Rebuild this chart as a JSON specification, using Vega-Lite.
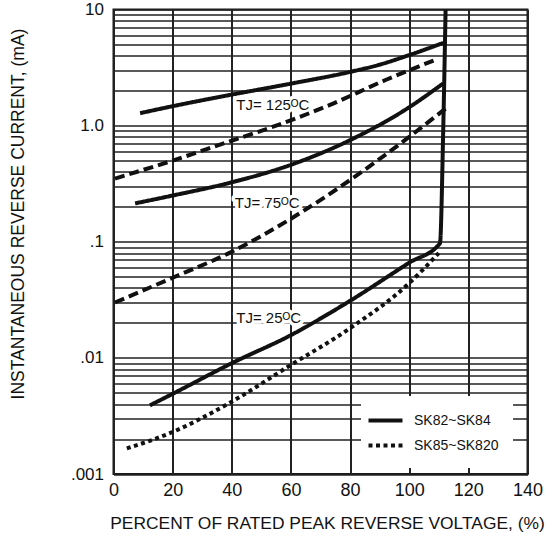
{
  "$schema": "https://vega.github.io/schema/vega-lite/v6.json",
  "autosize": {"type": "none"},
  "padding": {"left": 113.5, "top": 9.5, "right": 32.5, "bottom": 64},
  "width": 414,
  "height": 464.5,
  "background": "white",
  "config": {
    "font": "Liberation Sans",
    "view": {"stroke": "#1a1a1a", "strokeWidth": 2},
    "axis": {"gridOpacity": 1, "ticks": false, "domain": false, "labelColor": "#111", "titleColor": "#111", "titleFontWeight": "normal", "labelFont": "Liberation Sans", "titleFont": "Liberation Sans"}
  },
  "datasets": {
    "curves": [
      {"series": "SK82~SK84", "tj": "125", "pct": 9, "ma": 1.28},
      {"series": "SK82~SK84", "tj": "125", "pct": 20, "ma": 1.47},
      {"series": "SK82~SK84", "tj": "125", "pct": 40, "ma": 1.85},
      {"series": "SK82~SK84", "tj": "125", "pct": 60, "ma": 2.3},
      {"series": "SK82~SK84", "tj": "125", "pct": 80, "ma": 2.9},
      {"series": "SK82~SK84", "tj": "125", "pct": 90, "ma": 3.35},
      {"series": "SK82~SK84", "tj": "125", "pct": 100, "ma": 4.05},
      {"series": "SK82~SK84", "tj": "125", "pct": 111.5, "ma": 5.15},
      {"series": "SK82~SK84", "tj": "75", "pct": 7.3, "ma": 0.214},
      {"series": "SK82~SK84", "tj": "75", "pct": 20, "ma": 0.25},
      {"series": "SK82~SK84", "tj": "75", "pct": 40, "ma": 0.325},
      {"series": "SK82~SK84", "tj": "75", "pct": 60, "ma": 0.46},
      {"series": "SK82~SK84", "tj": "75", "pct": 80, "ma": 0.75},
      {"series": "SK82~SK84", "tj": "75", "pct": 100, "ma": 1.44},
      {"series": "SK82~SK84", "tj": "75", "pct": 111.5, "ma": 2.31},
      {"series": "SK82~SK84", "tj": "25", "pct": 12.3, "ma": 0.0039},
      {"series": "SK82~SK84", "tj": "25", "pct": 20, "ma": 0.0049},
      {"series": "SK82~SK84", "tj": "25", "pct": 40, "ma": 0.009},
      {"series": "SK82~SK84", "tj": "25", "pct": 60, "ma": 0.0157},
      {"series": "SK82~SK84", "tj": "25", "pct": 80, "ma": 0.031},
      {"series": "SK82~SK84", "tj": "25", "pct": 100, "ma": 0.066},
      {"series": "SK82~SK84", "tj": "25", "pct": 110.4, "ma": 0.097},
      {"series": "SK82~SK84", "tj": "25", "pct": 111.5, "ma": 0.92},
      {"series": "SK82~SK84", "tj": "25", "pct": 112.3, "ma": 10},
      {"series": "SK85~SK820", "tj": "125", "pct": 0.5, "ma": 0.35},
      {"series": "SK85~SK820", "tj": "125", "pct": 20, "ma": 0.5},
      {"series": "SK85~SK820", "tj": "125", "pct": 37, "ma": 0.7},
      {"series": "SK85~SK820", "tj": "125", "pct": 54, "ma": 0.98},
      {"series": "SK85~SK820", "tj": "125", "pct": 73, "ma": 1.5},
      {"series": "SK85~SK820", "tj": "125", "pct": 92, "ma": 2.47},
      {"series": "SK85~SK820", "tj": "125", "pct": 109, "ma": 3.7},
      {"series": "SK85~SK820", "tj": "75", "pct": 0.5, "ma": 0.03},
      {"series": "SK85~SK820", "tj": "75", "pct": 20, "ma": 0.049},
      {"series": "SK85~SK820", "tj": "75", "pct": 40, "ma": 0.082},
      {"series": "SK85~SK820", "tj": "75", "pct": 60, "ma": 0.158},
      {"series": "SK85~SK820", "tj": "75", "pct": 80, "ma": 0.34},
      {"series": "SK85~SK820", "tj": "75", "pct": 100, "ma": 0.8},
      {"series": "SK85~SK820", "tj": "75", "pct": 112.7, "ma": 1.43},
      {"series": "SK85~SK820", "tj": "25", "pct": 4.5, "ma": 0.00166},
      {"series": "SK85~SK820", "tj": "25", "pct": 20, "ma": 0.0023},
      {"series": "SK85~SK820", "tj": "25", "pct": 40, "ma": 0.0042},
      {"series": "SK85~SK820", "tj": "25", "pct": 60, "ma": 0.0087},
      {"series": "SK85~SK820", "tj": "25", "pct": 80, "ma": 0.018},
      {"series": "SK85~SK820", "tj": "25", "pct": 100, "ma": 0.044},
      {"series": "SK85~SK820", "tj": "25", "pct": 110, "ma": 0.08}
    ],
    "labels": [
      {"pct": 41.5, "ma": 1.5, "text": "TJ= 125ᴼC"},
      {"pct": 41.0, "ma": 0.214, "text": "TJ= 75ᴼC"},
      {"pct": 41.5, "ma": 0.0219, "text": "TJ= 25ᴼC"}
    ]
  },
  "encoding": {
    "x": {
      "field": "pct", "type": "quantitative",
      "scale": {"domain": [0, 140], "nice": false, "zero": false},
      "axis": {
        "title": "PERCENT OF RATED PEAK REVERSE VOLTAGE, (%)",
        "values": [0, 20, 40, 60, 80, 100, 120, 140],
        "grid": true, "gridColor": "#222", "gridWidth": 2,
        "labelFontSize": 18, "labelPadding": 7, "labelFlush": false,
        "titleFontSize": 17.4, "titlePadding": 15, "titleX": 213.5
      }
    },
    "y": {
      "field": "ma", "type": "quantitative",
      "scale": {"type": "log", "domain": [0.001, 10], "nice": false},
      "axis": {
        "title": "INSTANTANEOUS REVERSE CURRENT, (mA)",
        "values": [0.001,0.002,0.003,0.004,0.005,0.006,0.007,0.008,0.009,0.01,0.02,0.03,0.04,0.05,0.06,0.07,0.08,0.09,0.1,0.2,0.3,0.4,0.5,0.6,0.7,0.8,0.9,1,2,3,4,5,6,7,8,9,10],
        "labelExpr": "datum.value == 10 ? '10' : datum.value == 1 ? '1.0' : datum.value == 0.1 ? '.1' : datum.value == 0.01 ? '.01' : datum.value == 0.001 ? '.001' : ''",
        "labelOverlap": false, "labelBound": false,
        "grid": true, "gridColor": "#222", "gridWidth": 1.5,
        "labelFontSize": 17, "labelPadding": 10,
        "titleFontSize": 17.5, "titleX": -95.5, "titleY": 204, "titleBaseline": "middle", "titleAlign": "center"
      }
    }
  },
  "layer": [
    {
      "data": {"name": "labels"},
      "mark": {"type": "text", "align": "left", "baseline": "middle", "fontSize": 15, "stroke": "white", "strokeWidth": 7, "fill": "white", "strokeJoin": "round"},
      "encoding": {"text": {"field": "text"}}
    },
    {
      "data": {"name": "curves"},
      "transform": [{"filter": "datum.series == 'SK82~SK84' || datum.tj == '25'"}],
      "mark": {"type": "line", "color": "#111", "strokeWidth": 4, "interpolate": "monotone", "clip": true},
      "encoding": {
        "detail": {"field": "tj"},
        "strokeDash": {
          "field": "series", "type": "nominal",
          "scale": {"domain": ["SK82~SK84", "SK85~SK820"], "range": [[1, 0], [4, 3.5]]},
          "legend": {
            "title": null, "orient": "none", "legendX": 247.5, "legendY": 386.5,
            "fillColor": "white", "padding": 14,
            "symbolType": "M-2,0H2", "symbolSize": 289, "symbolStrokeWidth": 4, "symbolStrokeColor": "#111",
            "labelFontSize": 14, "labelOffset": 18, "rowPadding": 6, "labelColor": "#111"
          }
        }
      }
    },
    {
      "data": {"name": "curves"},
      "transform": [{"filter": "datum.series == 'SK85~SK820' && datum.tj != '25'"}],
      "mark": {"type": "line", "color": "#111", "strokeWidth": 4, "strokeDash": [10, 5], "interpolate": "monotone", "clip": true},
      "encoding": {"detail": {"field": "tj"}}
    },
    {
      "data": {"name": "labels"},
      "mark": {"type": "text", "align": "left", "baseline": "middle", "fontSize": 15, "fill": "#111"},
      "encoding": {"text": {"field": "text"}}
    }
  ]
}
